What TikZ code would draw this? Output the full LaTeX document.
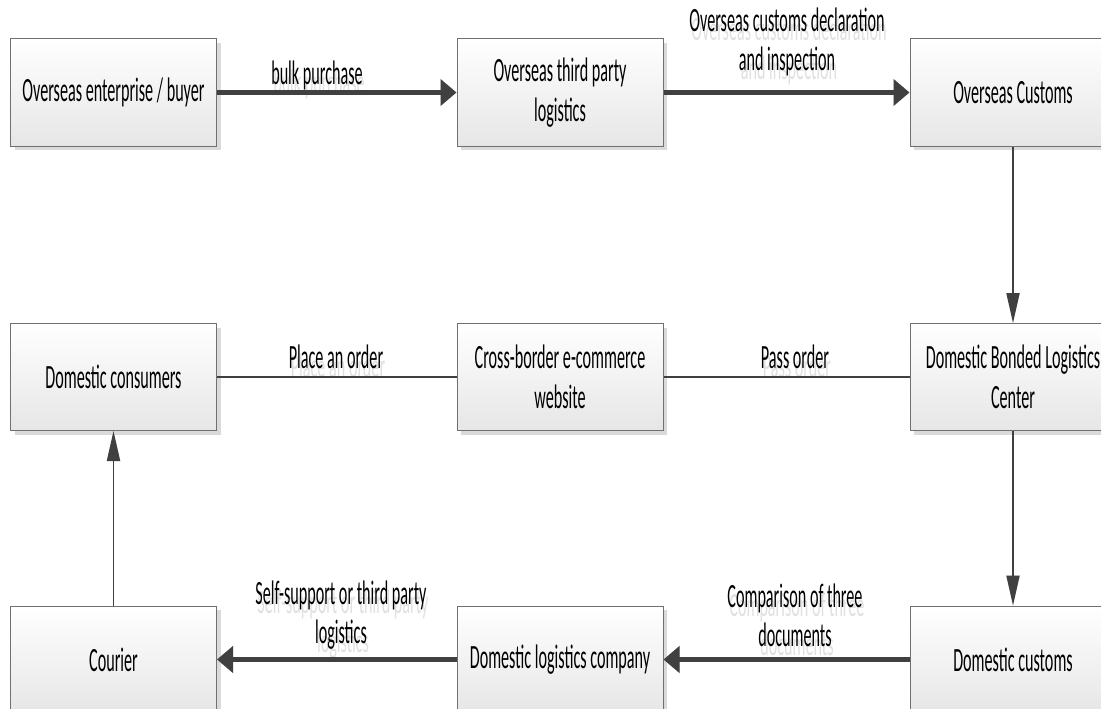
\documentclass[tikz,border=0pt]{standalone}
\usepackage{fontspec}
\setmainfont{Carlito}[FakeStretch=0.475]
\usetikzlibrary{arrows.meta,shadows}
\definecolor{boxline}{HTML}{707070}
\definecolor{boxbot}{HTML}{E6E6E6}
\definecolor{arrowc}{HTML}{404040}
\definecolor{shadowc}{HTML}{DADADA}
\definecolor{txtshadow}{HTML}{E0E0E0}
\begin{document}
\begin{tikzpicture}[x=1pt,y=-1pt,
  box/.style={draw=boxline, line width=1pt, top color=white, bottom color=boxbot,
    minimum width=206pt, minimum height=107pt, align=center, inner sep=0pt,
    font=\fontsize{34}{40}\selectfont,
    drop shadow={shadow xshift=4pt, shadow yshift=-4pt, fill=shadowc, opacity=1}},
  lbl/.style={align=center, inner sep=0pt, font=\fontsize{34}{39}\selectfont},
  lblshadow/.style={lbl, text=txtshadow},
  bigarrow/.style={draw=arrowc, line width=5pt, -{Triangle[length=16pt,width=26pt]}},
  bigshadow/.style={draw=shadowc, line width=5pt, -{Triangle[length=16pt,width=26pt]}},
  thinarrow/.style={draw=arrowc, line width=1.8pt, -{Triangle[length=30pt,width=13pt]}},
  thinshadow/.style={draw=shadowc, line width=1.8pt, -{Triangle[length=30pt,width=13pt]}},
  plainline/.style={draw=arrowc, line width=1.5pt},
  plainshadow/.style={draw=shadowc, line width=1.5pt}]
\path[use as bounding box] (0,0) rectangle (1101,709);
\clip (0,0) rectangle (1101,709);

\node[box] (oe)  at (113.5,92.5) {Overseas enterprise / buyer};
\node[box] (otp) at (560,92.5)   {Overseas third party\\logistics};
\node[box] (oc)  at (1013,92.5)  {Overseas Customs};
\node[box] (dc)  at (113.5,377)  {Domestic consumers};
\node[box] (cb)  at (560,377)    {Cross-border e-commerce\\website};
\node[box] (dbl) at (1013,377)   {Domestic Bonded Logistics\\Center};
\node[box] (cou) at (113.5,659.5){Courier};
\node[box] (dlc) at (560,659.5)  {Domestic logistics company};
\node[box] (dcu) at (1013,659.5) {Domestic customs};

% shadows of connectors
\begin{scope}[xshift=3pt,yshift=-4pt]
\draw[bigshadow] (oe) -- (otp);
\draw[bigshadow] (otp) -- (oc);
\draw[bigshadow] (dcu) -- (dlc);
\draw[bigshadow] (dlc) -- (cou);
\draw[plainshadow] (dc) -- (cb);
\draw[plainshadow] (cb) -- (dbl);
\draw[thinshadow] (oc) -- (dbl);
\draw[thinshadow] (dbl) -- (dcu);
\draw[thinshadow] (cou) -- (dc);
\end{scope}

% label shadows
\begin{scope}[xshift=2pt,yshift=-9pt]
\node[lblshadow] (s1) at (317,75) {bulk purchase};
\node[lblshadow] (s2) at (787,42) {Overseas customs declaration\\and inspection};
\node[lblshadow] (s3) at (336,357) {Place an order};
\node[lblshadow] (s4) at (795,357) {Pass order};
\node[lblshadow] (s5) at (341,615) {Self-support or third party\\logistics};
\node[lblshadow] (s6) at (795,615) {Comparison of three\\documents};
\end{scope}

% connectors
\draw[bigarrow] (oe) -- (otp);
\draw[bigarrow] (otp) -- (oc);
\draw[bigarrow] (dcu) -- (dlc);
\draw[bigarrow] (dlc) -- (cou);
\draw[plainline] (dc) -- (cb);
\draw[plainline] (cb) -- (dbl);
\draw[thinarrow] (oc) -- (dbl);
\draw[thinarrow] (dbl) -- (dcu);
\draw[thinarrow] (cou) -- (dc);

% labels
\node[lbl] (l1) at (317,75) {bulk purchase};
\node[lbl] (l2) at (787,42) {Overseas customs declaration\\and inspection};
\node[lbl] (l3) at (336,357) {Place an order};
\node[lbl] (l4) at (795,357) {Pass order};
\node[lbl] (l5) at (341,615) {Self-support or third party\\logistics};
\node[lbl] (l6) at (795,615) {Comparison of three\\documents};
\end{tikzpicture}
\end{document}
